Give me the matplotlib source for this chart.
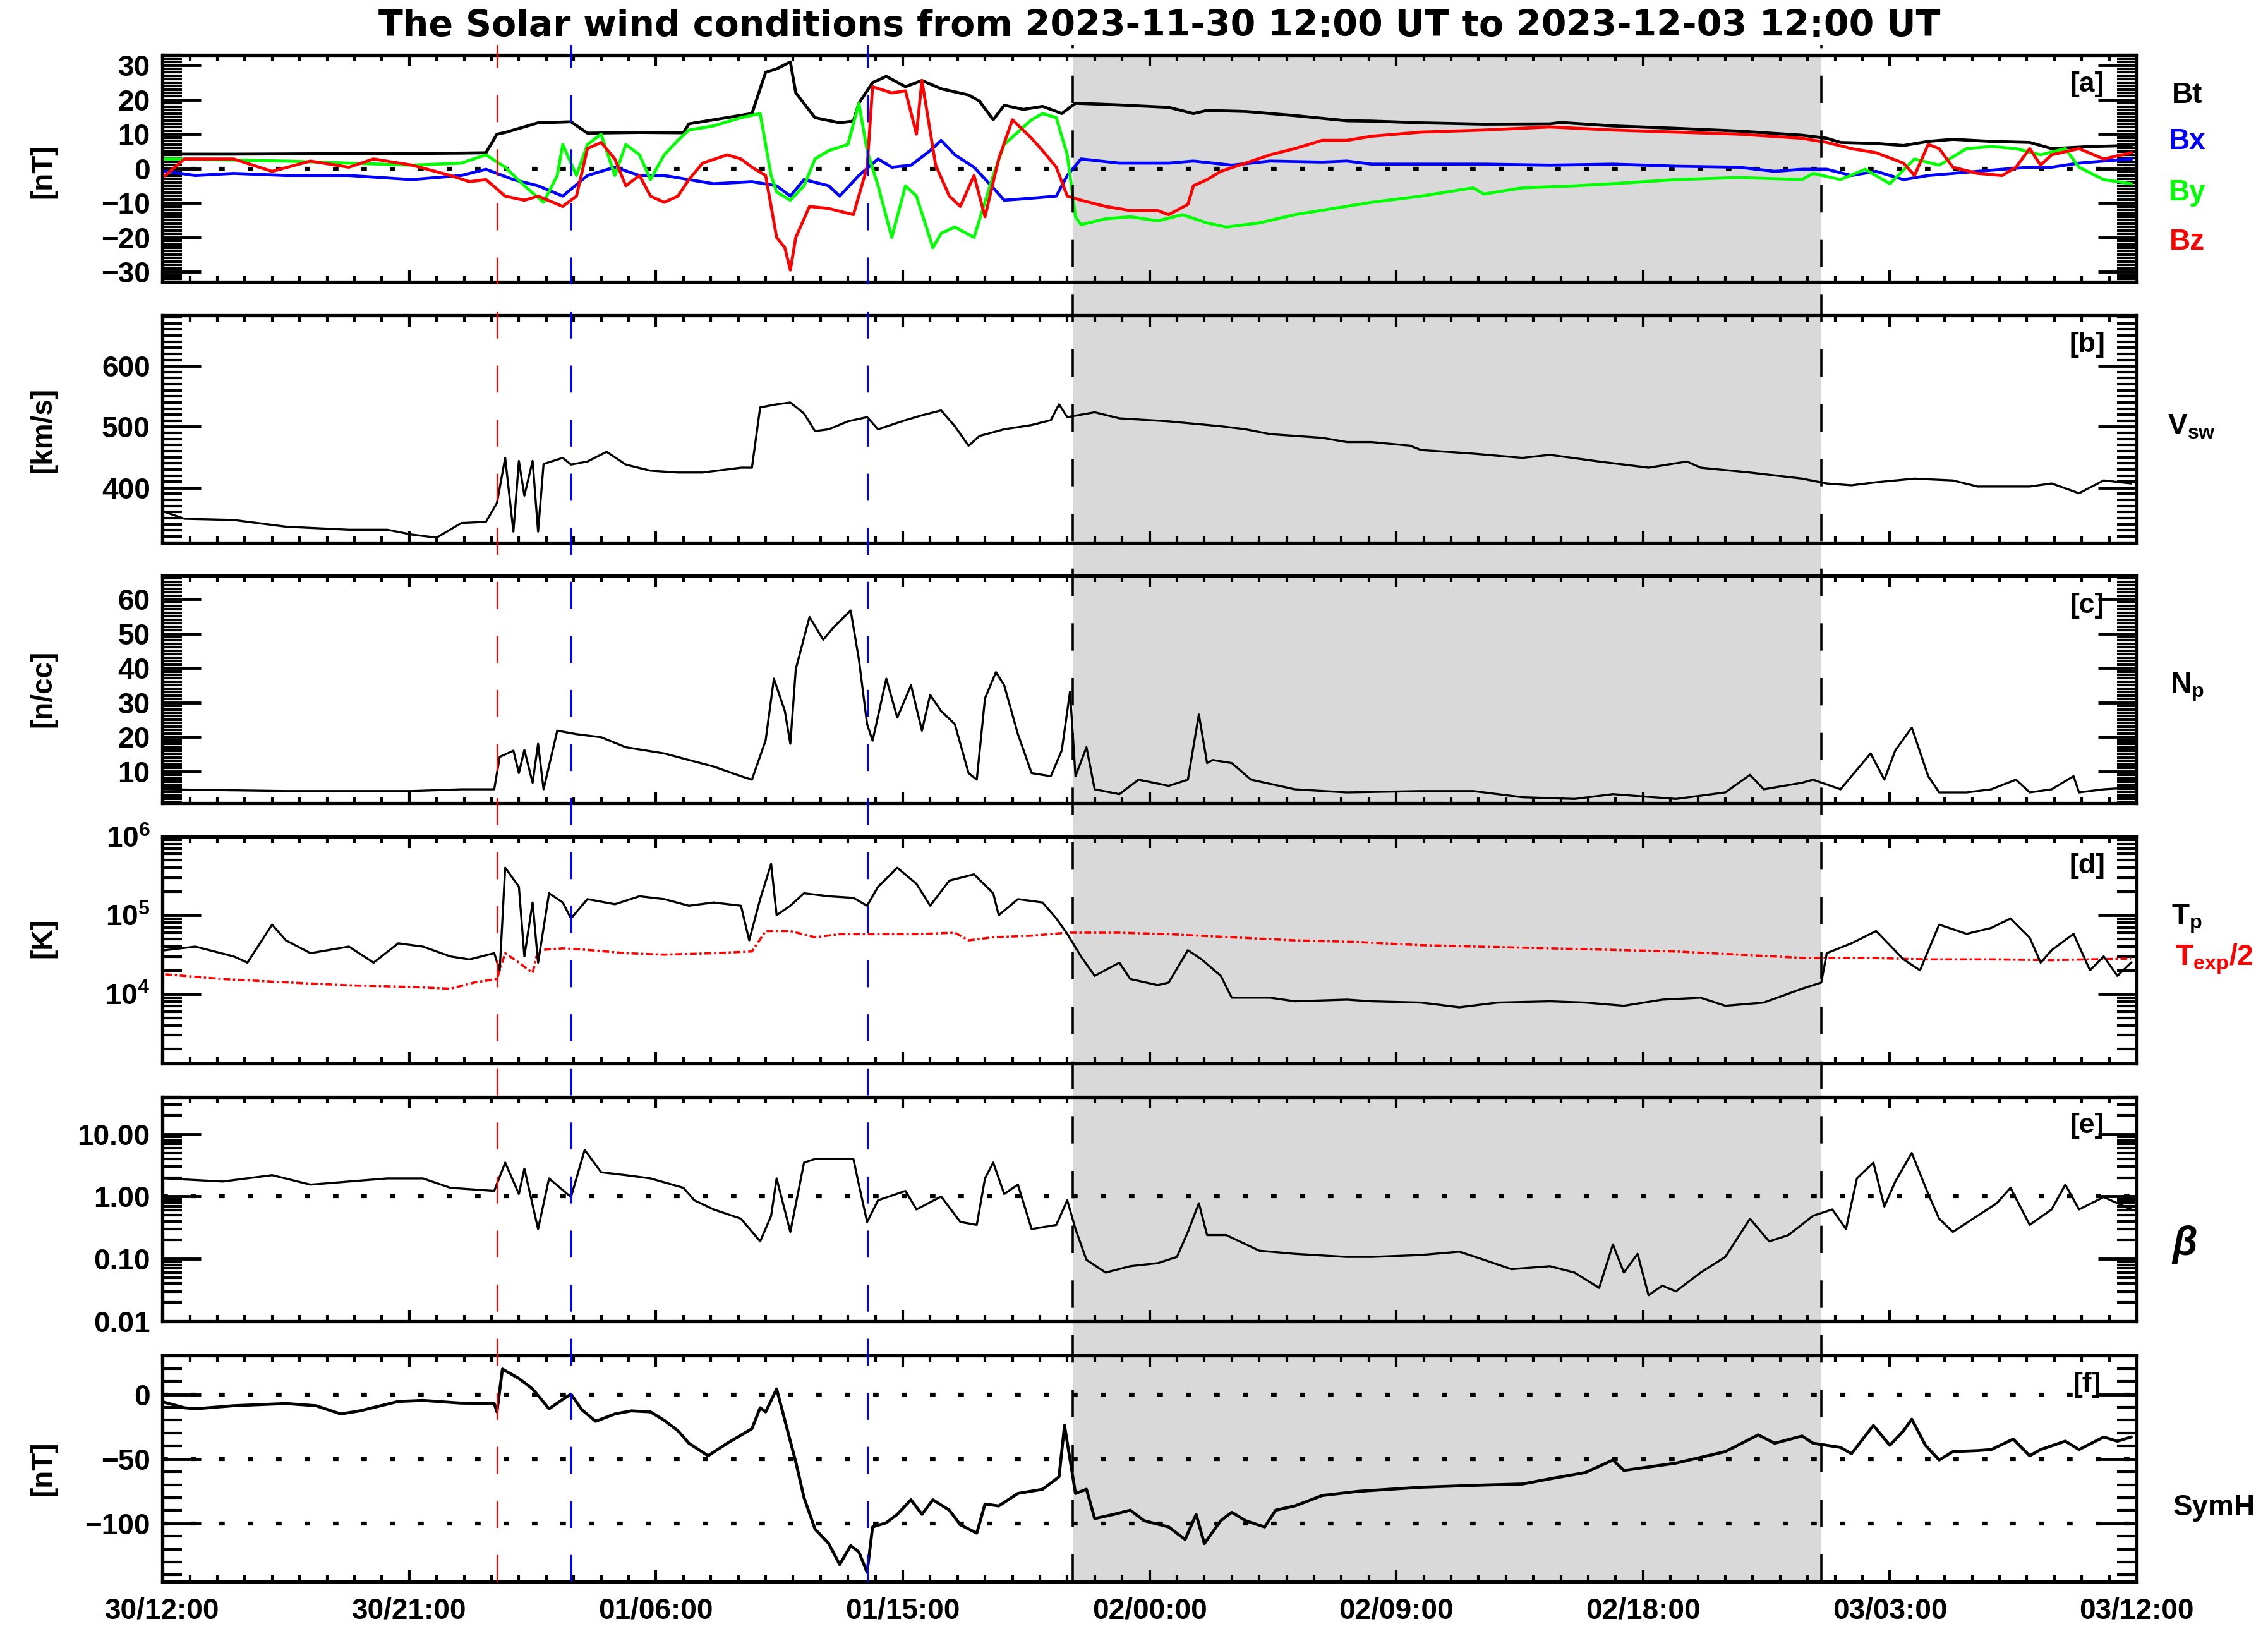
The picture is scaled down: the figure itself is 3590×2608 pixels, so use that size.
import numpy as np
import matplotlib
matplotlib.use('Agg')
import matplotlib.pyplot as plt
from matplotlib.ticker import MultipleLocator, FixedLocator, FixedFormatter, NullFormatter

plt.rcParams['font.family'] = ['Liberation Sans', 'DejaVu Sans']
plt.rcParams['font.weight'] = 'bold'
plt.rcParams['mathtext.fontset'] = 'custom'
plt.rcParams['mathtext.rm'] = 'Liberation Sans:bold'
plt.rcParams['mathtext.it'] = 'Liberation Sans:bold'
plt.rcParams['mathtext.bf'] = 'Liberation Sans:bold'
plt.rcParams['mathtext.default'] = 'rm'

# time in hours since 2023-11-30 12:00 UT
tick_labels = ['30/12:00', '30/21:00', '01/06:00', '01/15:00', '02/00:00',
               '02/09:00', '02/18:00', '03/03:00', '03/12:00']
shock_t = 12.2
blue_t = [14.9, 25.7]
mc_start, mc_end = 33.2, 60.5

# [a] magnetic field (nT)
bt_t = [0.1, 2.6, 5.4, 9.1, 10.9, 11.8, 12.2, 12.5, 13.7, 14.9, 15.5, 17.4, 19.0, 19.2, 21.5,
        22.0, 22.4, 22.9, 23.1, 23.8, 24.7, 25.2, 25.4, 25.9, 26.4, 27.1, 27.7, 28.4, 29.4, 29.8,
        30.3, 30.7, 31.4, 32.1, 32.8, 33.3, 34.9, 36.7, 37.6, 38.1, 39.5, 41.3, 43.2, 44.1, 45.9,
        48.2, 50.6, 51.0, 52.9, 55.2, 57.5, 59.8, 60.7, 61.2, 62.5, 63.5, 64.4, 65.3, 66.7, 68.1,
        68.9, 70.3, 71.8]
bt = [4.2, 4.2, 4.3, 4.4, 4.5, 4.6, 10, 10.5, 13.3, 13.6, 10.3, 10.5, 10.4, 13, 16,
      28, 29, 31, 22, 14.8, 13.3, 13.8, 19, 25, 26.8, 23.8, 25.6, 23.2, 21.4, 19.6,
      14.2, 18.4, 17.2, 18.1, 16, 19, 18.5, 17.8, 16, 16.9, 16.6, 15.4, 13.9, 13.8, 13.3,
      12.9, 13, 13.4, 12.4, 11.7, 10.9, 9.7, 8.8, 7.6, 7.3, 6.7, 7.9, 8.5, 7.9, 7.6,
      5.8, 6.4, 6.7]

bx_t = [0.1, 1.2, 2.6, 4.5, 6.8, 9.1, 10.9, 11.8, 12.8, 13.7, 14.6, 15.5, 16.5, 17.4, 18.3,
        19.2, 20.1, 21.5, 22.4, 22.9, 23.4, 24.3, 24.7, 25.4, 26.1, 26.6, 27.3, 28.0, 28.4, 28.9,
        29.6, 30.3, 30.7, 31.7, 32.6, 33.0, 33.5, 34.9, 36.7, 37.6, 39.0, 40.4, 42.3, 43.2, 44.1,
        45.9, 48.2, 50.6, 52.9, 55.2, 57.5, 58.8, 59.8, 60.7, 61.6, 62.5, 63.5, 64.4, 65.3, 66.2,
        67.1, 68.1, 68.9, 69.9, 70.8, 71.8]
bx = [-0.8, -2, -1.4, -2, -2, -3.2, -2, -0.2, -3.2, -5, -8, -2, 0.4, -2, -2,
      -3.2, -4.4, -3.8, -5, -8, -3.2, -5, -8, -2, 2.8, 0.4, 1, 5.2, 8.2, 4,
      0.4, -5.6, -9.2, -8.6, -8, -2, 2.8, 1.6, 1.6, 2.2, 1, 2.2, 1.9, 2.2, 1.3,
      1.3, 1.3, 1, 1.3, 0.7, 0.4, -0.8, -0.2, -0.2, -2, -0.8, -3.2, -2, -1.4, -0.8,
      -0.2, 0.4, 0.4, 1.6, 2.2, 2.8]

by_t = [0.1, 0.8, 4.5, 6.8, 9.1, 10.9, 11.8, 12.5, 13.2, 13.9, 14.4, 14.6, 15.1, 15.5, 16.0,
        16.5, 16.9, 17.4, 17.8, 18.3, 18.8, 19.2, 20.1, 21.1, 21.8, 22.2, 22.4, 22.9, 23.4, 23.8,
        24.3, 25.0, 25.4, 25.7, 26.1, 26.6, 27.1, 27.5, 28.1, 28.4, 28.9, 29.6, 30.3, 30.7, 31.7,
        32.1, 32.6, 33.0, 33.3, 33.5, 34.4, 35.3, 36.3, 37.2, 38.1, 38.8, 40.0, 41.3, 42.7, 44.1,
        45.9, 47.8, 48.2, 49.6, 51.5, 52.9, 55.2, 57.5, 59.8, 60.2, 61.2, 62.1, 63.0, 63.9, 64.8,
        65.8, 66.7, 67.6, 68.5, 69.4, 69.9, 70.8, 71.8]
by = [2.8, 2.8, 2.2, 1.6, 1.0, 1.6, 4, 0.4, -5, -9.8, -2, 7, -2, 7, 10,
      -2, 7, 4, -3.2, 4, 8.2, 11.2, 12.4, 14.8, 16, -2, -6.8, -9.2, -5, 2.8,
      5.2, 7, 19, 5.2, -5, -20, -5, -8, -23, -18.8, -17, -20, -2, 7, 14.2,
      16, 14.8, 4, -14, -16.3, -14.6, -14, -15.2, -13.4, -15.8, -17, -15.8, -13.4, -11.6, -9.8,
      -8, -5.6, -7.4, -5.6, -5, -4.4, -3.2, -2.6, -3.2, -1.4, -3.2, -0.2, -4.4, 2.8, 1,
      5.8, 6.4, 5.8, 4, 5.8, 0.4, -3.2, -4.4]

bz_t = [0.1, 0.8, 2.6, 4.0, 5.4, 6.8, 7.7, 9.1, 10.5, 11.2, 11.8, 12.5, 13.2, 13.7, 14.6,
        15.1, 15.5, 16.0, 16.5, 16.9, 17.4, 17.8, 18.3, 18.8, 19.2, 19.7, 20.6, 21.1, 21.5, 22.0,
        22.4, 22.7, 22.9, 23.1, 23.6, 24.3, 25.2, 25.7, 25.9, 26.6, 27.1, 27.5, 27.7, 28.2, 28.7,
        29.1, 29.6, 30.0, 30.5, 31.0, 31.7, 32.1, 32.6, 33.0, 33.5, 34.4, 35.3, 36.3, 36.7, 37.4,
        37.6, 38.1, 38.6, 39.5, 40.4, 41.3, 42.3, 43.2, 44.1, 45.9, 48.2, 50.6, 52.9, 55.2, 57.5,
        59.8, 60.7, 61.6, 62.5, 63.5, 63.9, 64.4, 64.8, 65.3, 66.2, 67.1, 67.6, 68.1, 68.5, 68.9,
        69.9, 70.8, 71.8]
bz = [-2, 2.8, 2.8, -0.8, 2.2, 0.4, 2.8, 1, -2, -3.8, -3.2, -8, -9.2, -8, -11,
      -8, 5.8, 7.6, 2.8, -5, -2, -8, -9.8, -8, -3.2, 1.6, 4, 2.8, 0.4, -2,
      -20, -23, -29.5, -20, -11, -11.6, -13.4, 0.4, 23.8, 22, 22.6, 10, 25.6, 1, -8,
      -11, -2, -14, 2.8, 14.2, 8.8, 5.2, 0.4, -8, -9.2, -11, -12.2, -12.2, -13.4, -10.4,
      -5, -3.2, -0.8, 1.6, 4, 5.8, 8.2, 8.2, 9.4, 10.6, 11.2, 12.1, 11.2, 10.6, 10,
      8.8, 7.6, 5.8, 4.6, 1.6, -2, 7, 5.8, 0.4, -1.4, -2, 0.4, 5.8, 1, 4,
      5.8, 2.8, 4.6]

# [b] solar wind speed (km/s)
v_t = [0.1, 0.8, 2.6, 4.5, 6.8, 8.2, 9.1, 10.0, 10.9, 11.8, 12.2, 12.5, 12.8, 13.0, 13.2,
       13.5, 13.7, 13.9, 14.6, 14.9, 15.5, 16.2, 16.9, 17.8, 18.8, 19.7, 21.1, 21.5, 21.8, 22.4,
       22.9, 23.4, 23.8, 24.3, 25.0, 25.7, 26.1, 27.1, 27.7, 28.4, 28.9, 29.4, 29.8, 30.7, 31.7,
       32.4, 32.7, 33.0, 34.0, 34.9, 36.7, 38.6, 39.5, 40.4, 42.3, 43.2, 44.1, 45.5, 45.9, 47.8,
       49.6, 50.6, 52.4, 54.2, 55.6, 56.1, 57.9, 59.8, 60.7, 61.6, 62.5, 63.9, 65.3, 66.2, 67.1,
       68.1, 68.9, 69.9, 70.8, 71.8]
v_sw = [360, 349, 347, 336, 331, 331, 323, 318, 342, 344, 375, 449, 328, 444, 387,
        444, 328, 439, 449, 438, 443, 459, 438, 428, 425, 425, 433, 433, 532, 537,
        540, 522, 493, 496, 509, 516, 496, 511, 519, 527, 501, 469, 485, 496, 503,
        511, 537, 516, 524, 514, 509, 501, 496, 488, 482, 475, 475, 469, 462, 456,
        449, 454, 443, 433, 443, 433, 425, 415, 407, 404, 409, 415, 412, 402, 402,
        402, 407, 391, 412, 407]

# [c] proton density (n/cc)
n_t = [0.1, 4.5, 9.1, 10.9, 12.1, 12.3, 12.8, 13.0, 13.2, 13.5, 13.7, 13.9, 14.4, 15.1, 16.0,
       16.9, 18.3, 19.2, 20.1, 21.1, 21.5, 22.0, 22.3, 22.7, 22.9, 23.1, 23.6, 24.1, 24.5, 25.1,
       25.4, 25.7, 25.9, 26.4, 26.8, 27.3, 27.7, 28.0, 28.4, 28.9, 29.4, 29.7, 30.0, 30.4, 30.7,
       31.2, 31.7, 32.4, 32.8, 33.1, 33.3, 33.7, 34.0, 34.9, 35.6, 36.7, 37.4, 37.8, 38.1, 38.3,
       39.0, 39.7, 41.3, 43.2, 45.9, 47.8, 49.6, 51.5, 52.9, 55.2, 57.0, 57.9, 58.4, 59.8, 60.2,
       61.2, 61.6, 62.3, 62.8, 63.2, 63.8, 64.4, 64.8, 65.8, 66.7, 67.6, 68.1, 68.9, 69.7, 69.9,
       70.8, 71.8]
n_p = [4.8, 4.3, 4.3, 4.8, 4.8, 14.2, 16.0, 9.5, 16.2, 6.7, 18.0, 4.8, 21.8, 20.8, 19.9,
       17.0, 15.2, 13.3, 11.4, 8.6, 7.6, 19.0, 36.9, 27.5, 18.0, 39.7, 54.8, 48.2, 52.0, 56.7,
       42.5, 23.7, 18.9, 36.9, 25.6, 35.0, 21.8, 32.2, 27.5, 23.7, 9.5, 7.6, 31.2, 38.8, 35.0,
       20.8, 9.5, 8.6, 16.1, 33.1, 8.6, 17.0, 4.8, 3.4, 7.6, 5.8, 7.6, 26.5, 12.4, 13.3,
       12.4, 7.6, 4.8, 3.9, 4.3, 4.3, 2.5, 2.0, 3.4, 2.0, 3.9, 9.0, 4.8, 6.7, 7.6,
       4.8, 8.6, 15.2, 7.6, 16.1, 22.7, 8.6, 3.9, 3.9, 4.8, 7.6, 3.9, 4.8, 8.6, 3.9,
       4.8, 5.3]

# [d] proton temperature and expected temperature / 2 (K)
tp_t = [0.1, 1.2, 2.6, 3.1, 4.0, 4.5, 5.4, 6.8, 7.7, 8.6, 9.5, 10.5, 11.2, 12.1, 12.3,
        12.5, 13.0, 13.2, 13.5, 13.7, 14.1, 14.6, 14.9, 15.5, 16.5, 17.4, 18.3, 19.2, 20.1, 21.1,
        21.4, 21.8, 22.2, 22.4, 22.9, 23.4, 24.3, 25.2, 25.7, 26.1, 26.8, 27.5, 28.0, 28.7, 29.6,
        30.3, 30.5, 31.2, 32.1, 32.6, 33.0, 33.5, 34.0, 34.9, 35.3, 36.3, 36.7, 37.4, 37.9, 38.6,
        39.0, 40.4, 41.3, 43.2, 44.1, 45.9, 47.3, 48.7, 50.6, 51.9, 53.3, 54.7, 56.1, 57.0, 58.4,
        59.8, 60.5, 60.7, 61.6, 62.5, 63.5, 64.1, 64.8, 65.8, 66.7, 67.4, 68.1, 68.5, 68.9, 69.7,
        70.3, 70.8, 71.3, 71.8]
t_p = [36000, 40000, 30000, 25000, 76000, 48000, 33000, 40000, 25000, 44000, 40000, 30000, 27500, 33000, 20000,
       400000, 230000, 30000, 145000, 25000, 190000, 145000, 91000, 160000, 138000, 174000, 160000, 132000, 145000, 132000,
       48000, 160000, 447000, 100000, 132000, 190000, 174000, 166000, 132000, 230000, 400000, 250000, 132000, 275000, 330000,
       190000, 100000, 160000, 145000, 91000, 58000, 30000, 17000, 25000, 15500, 13000, 14000, 36000, 27500, 17000,
       9000, 9000, 8100, 8500, 8100, 7800, 6800, 7800, 8100, 7800, 7100, 8500, 9000, 7100, 7800,
       11700, 14000, 33000, 44000, 63000, 27500, 20000, 76000, 58000, 69000, 91000, 52000, 25000, 36000, 58000,
       20000, 30000, 17000, 25000]

texp_t = [0.1, 2.2, 4.5, 6.8, 9.1, 10.5, 11.4, 12.2, 12.5, 13.0, 13.5, 13.7, 14.6, 15.5, 16.9,
          18.3, 20.1, 21.5, 22.0, 22.9, 23.8, 24.7, 26.1, 27.5, 28.9, 29.4, 30.3, 31.7, 33.0, 34.9,
          36.7, 39.0, 41.3, 43.6, 45.9, 48.2, 50.6, 52.9, 55.2, 57.5, 59.8, 62.1, 64.4, 66.7, 68.9,
          71.8]
texp_half = [17800, 15500, 14100, 12900, 12300, 11700, 14100, 15500, 33000, 25000, 18600, 36000, 38000, 36300, 33000,
             31600, 33000, 34700, 63000, 63000, 52500, 57500, 57500, 57500, 60000, 48000, 52500, 55000, 60000, 60000,
             57500, 52500, 48000, 45700, 41700, 39800, 38000, 36300, 34700, 31600, 28800, 28800, 27500, 27500, 26900,
             28200]

# [e] plasma beta
beta_t = [0.1, 2.2, 4.0, 5.4, 6.8, 8.2, 9.5, 10.5, 12.1, 12.5, 13.0, 13.2, 13.7, 14.1, 14.9,
          15.4, 16.0, 16.9, 17.8, 19.0, 19.4, 20.1, 21.1, 21.8, 22.2, 22.4, 22.9, 23.4, 23.8, 24.7,
          25.2, 25.4, 25.7, 26.1, 27.1, 27.5, 28.4, 29.1, 29.7, 30.0, 30.3, 30.7, 31.2, 31.7, 32.6,
          33.0, 33.3, 33.7, 34.4, 35.3, 36.3, 37.0, 37.4, 37.8, 38.1, 38.8, 40.0, 41.3, 43.2, 44.1,
          45.9, 47.3, 48.2, 49.2, 50.6, 51.5, 52.4, 52.9, 53.3, 53.8, 54.2, 54.7, 55.2, 56.1, 57.0,
          57.9, 58.6, 59.3, 60.2, 60.9, 61.4, 61.8, 62.4, 62.8, 63.2, 63.8, 64.4, 64.8, 65.3, 66.2,
          66.9, 67.4, 68.1, 68.9, 69.4, 69.9, 70.8, 71.8]
beta = [1.95, 1.74, 2.2, 1.55, 1.74, 1.95, 1.95, 1.38, 1.23, 3.5, 1.1, 2.8, 0.30, 1.95, 0.98,
        5.6, 2.45, 2.2, 1.95, 1.38, 0.87, 0.62, 0.44, 0.19, 0.49, 1.95, 0.27, 3.5, 4.0, 4.0,
        4.0, 1.55, 0.39, 0.87, 1.23, 0.62, 1.0, 0.39, 0.35, 1.95, 3.5, 1.1, 1.55, 0.30, 0.35,
        0.87, 0.30, 0.096, 0.060, 0.076, 0.085, 0.107, 0.27, 0.78, 0.24, 0.24, 0.135, 0.12, 0.107, 0.107,
        0.115, 0.13, 0.096, 0.068, 0.076, 0.06, 0.034, 0.17, 0.06, 0.12, 0.026, 0.037, 0.03, 0.06, 0.107,
        0.44, 0.19, 0.24, 0.49, 0.62, 0.30, 1.95, 3.5, 0.69, 1.74, 5.0, 1.1, 0.44, 0.27, 0.49,
        0.78, 1.38, 0.35, 0.62, 1.55, 0.62, 0.98, 0.62]

# [f] SymH index (nT)
symh_t = [0.1, 0.8, 1.2, 2.6, 4.5, 5.6, 6.5, 7.2, 8.6, 9.5, 10.9, 12.1, 12.2, 12.4, 13.0,
          13.5, 14.1, 14.6, 14.9, 15.3, 15.8, 16.5, 17.1, 17.8, 18.3, 18.8, 19.2, 19.9, 20.6, 21.5,
          21.8, 22.0, 22.4, 22.7, 23.1, 23.4, 23.8, 24.3, 24.7, 25.1, 25.4, 25.7, 25.9, 26.4, 26.8,
          27.3, 27.7, 28.1, 28.7, 29.1, 29.7, 30.0, 30.5, 31.2, 32.1, 32.7, 32.9, 33.3, 33.7, 34.0,
          34.7, 35.3, 35.8, 36.7, 37.3, 37.7, 38.0, 38.6, 39.0, 39.5, 40.2, 40.6, 41.3, 42.3, 43.6,
          45.9, 48.2, 49.6, 50.6, 51.9, 52.9, 53.3, 55.2, 57.0, 58.2, 58.8, 59.8, 60.2, 61.2, 61.6,
          62.4, 63.0, 63.5, 63.8, 64.3, 64.8, 65.3, 66.2, 66.7, 67.5, 68.1, 68.5, 69.4, 69.9, 70.8,
          71.3, 71.8]
symh = [-6.3, -10.4, -11.2, -8.8, -7.1, -8.8, -15.2, -12.8, -5.5, -4.7, -6.8, -7.1, -13.6, 19.6, 12.3,
        4.2, -11.2, -3.9, 0.2, -12.0, -20.9, -15.2, -12.8, -13.6, -20.1, -28.2, -37.9, -47.6, -37.9, -26.6,
        -10.4, -13.6, 4.2, -20.1, -52.5, -80.1, -104.4, -115.7, -131.9, -117.3, -122.2, -138.0, -102.8, -99.5, -93.0,
        -81.7, -93.0, -81.7, -89.8, -101.1, -107.6, -85.0, -86.5, -76.8, -73.6, -63.9, -24.1, -76.8, -73.6, -96.3,
        -93.0, -89.8, -97.9, -102.8, -112.5, -93.0, -115.7, -97.9, -91.4, -97.9, -102.8, -89.8, -86.5, -78.4, -75.2,
        -72.0, -70.3, -69.5, -65.5, -60.6, -50.9, -59.0, -53.3, -44.4, -31.4, -37.9, -32.3, -37.9, -41.1, -46.0,
        -24.1, -39.5, -28.2, -19.3, -39.5, -50.9, -44.4, -43.6, -42.8, -34.7, -47.6, -42.8, -36.3, -42.8, -33.1,
        -36.3, -33.1]

FS = 33
L, W = 0.0716, 0.8702
# (bottom, height) of each panel in figure fraction
boxes = [(0.8288, 0.1378), (0.6708, 0.1378), (0.5127, 0.1378),
         (0.3547, 0.1378), (0.1984, 0.1361), (0.0404, 0.1370)]

fig = plt.figure(figsize=(35.91, 26.08), dpi=100)
fig.patch.set_facecolor('white')

top_a = boxes[0][0] + boxes[0][1]
bot_f = boxes[5][0]

# shaded magnetic cloud interval, continuous through all panels
bg = fig.add_axes([L, bot_f, W, top_a - bot_f], zorder=0)
bg.set_xlim(0, 72)
bg.set_ylim(0, 1)
bg.axvspan(mc_start, mc_end, color='#d9d9d9', lw=0)
bg.axis('off')

axes = []
for i, (b, h) in enumerate(boxes):
    ax = fig.add_axes([L, b, W, h], zorder=1)
    ax.set_facecolor('none')
    ax.set_xlim(0, 72)
    for s in ax.spines.values():
        s.set_linewidth(3.8)
    ax.xaxis.set_major_locator(MultipleLocator(9))
    ax.xaxis.set_minor_locator(MultipleLocator(1))
    ax.tick_params(axis='x', which='major', direction='in', length=13, width=3,
                   top=True, bottom=True, labelbottom=False, pad=18, labelsize=FS)
    ax.tick_params(axis='x', which='minor', direction='in', length=7, width=3,
                   top=True, bottom=True)
    ax.tick_params(axis='y', which='major', direction='in', length=44, width=3.5,
                   left=True, right=True, labelsize=FS, pad=14)
    ax.tick_params(axis='y', which='minor', direction='in', length=22, width=3,
                   left=True, right=True)
    axes.append(ax)

ax_a, ax_b, ax_c, ax_d, ax_e, ax_f = axes
dot = dict(color='black', lw=4.5, linestyle=(0, (1.4, 5.8)))

# [a]
ax_a.axhline(0, **dot, zorder=1)
ax_a.plot(bt_t, bt, color='black', lw=3.4, zorder=3)
ax_a.plot(bx_t, bx, color='#0000ff', lw=3.4, zorder=3)
ax_a.plot(by_t, by, color='#00ff00', lw=3.4, zorder=3)
ax_a.plot(bz_t, bz, color='#ff0000', lw=3.4, zorder=3)
ax_a.set_ylim(-33, 33)
ax_a.yaxis.set_major_locator(MultipleLocator(10))
ax_a.yaxis.set_minor_locator(MultipleLocator(1))

# [b]
ax_b.plot(v_t, v_sw, color='black', lw=2.4)
ax_b.set_ylim(310, 683)
ax_b.yaxis.set_major_locator(FixedLocator([400, 500, 600]))
ax_b.yaxis.set_minor_locator(MultipleLocator(10))

# [c]
ax_c.plot(n_t, n_p, color='black', lw=2.4)
ax_c.set_ylim(0.8, 66.7)
ax_c.yaxis.set_major_locator(FixedLocator([10, 20, 30, 40, 50, 60]))
ax_c.yaxis.set_minor_locator(MultipleLocator(1))

# [d]
ax_d.set_yscale('log')
ax_d.plot(texp_t, texp_half, color='#ff0000', lw=2.6, linestyle=(0, (3, 1.2, 1, 1.2)))
ax_d.plot(tp_t, t_p, color='black', lw=2.4)
ax_d.set_ylim(10 ** 3.12, 1.0e6)
ax_d.yaxis.set_major_locator(FixedLocator([1e4, 1e5, 1e6]))
ax_d.yaxis.set_major_formatter(FixedFormatter(['10$^{4}$', '10$^{5}$', '10$^{6}$']))
ax_d.yaxis.set_minor_locator(FixedLocator([m * 10.0 ** k for k in (3, 4, 5) for m in range(2, 10)]))
ax_d.yaxis.set_minor_formatter(NullFormatter())

# [e]
ax_e.set_yscale('log')
ax_e.axhline(1, **dot, zorder=1)
ax_e.plot(beta_t, beta, color='black', lw=2.4)
ax_e.set_ylim(0.01, 40)
ax_e.yaxis.set_major_locator(FixedLocator([0.01, 0.1, 1, 10]))
ax_e.yaxis.set_major_formatter(FixedFormatter(['0.01', '0.10', '1.00', '10.00']))
ax_e.yaxis.set_minor_locator(FixedLocator([m * 10.0 ** k for k in (-2, -1, 0, 1) for m in range(2, 10)]))
ax_e.yaxis.set_minor_formatter(NullFormatter())

# [f]
for lev in (0, -50, -100):
    ax_f.axhline(lev, **dot, zorder=1)
ax_f.plot(symh_t, symh, color='black', lw=3.4)
ax_f.set_ylim(-145, 30)
ax_f.yaxis.set_major_locator(FixedLocator([-100, -50, 0]))
ax_f.yaxis.set_minor_locator(MultipleLocator(10))
ax_f.set_xticks(np.arange(0, 73, 9))
ax_f.set_xticklabels(tick_labels)
ax_f.tick_params(axis='x', labelbottom=True)

for ax, lab in zip(axes, 'abcdef'):
    ax.text(0.975, 0.87, '[%s]' % lab, transform=ax.transAxes, ha='center', va='center',
            fontsize=32, fontweight='bold')

# event markers drawn across all panels
ov = fig.add_axes([L, bot_f, W, top_a + 0.006 - bot_f], zorder=3)
ov.set_xlim(0, 72)
ov.set_ylim(0, 1)
ov.axis('off')
ov.axvline(shock_t, color='#ff0000', lw=2.2, linestyle=(0, (14, 14)))
for t in blue_t:
    ov.axvline(t, color='#0000ff', lw=2.2, linestyle=(0, (14, 14)))
for t in (mc_start, mc_end):
    ov.axvline(t, color='black', lw=2.6, linestyle=(0, (12, 12)))

# titles and labels
fig.text(0.511, 0.984, 'The Solar wind conditions from 2023-11-30 12:00 UT to 2023-12-03 12:00 UT',
         ha='center', va='center', fontsize=41, fontweight='bold', family='DejaVu Sans')

ylabs = [('[nT]', 0.896), ('[km/s]', 0.739), ('[n/cc]', 0.582), ('[K]', 0.431), ('[nT]', 0.109)]
for s, y in ylabs:
    fig.text(0.019, y, s, rotation=90, ha='center', va='center', fontsize=FS, fontweight='bold')

right_labels = [('Bt', 0.964, 0.942, 'black'), ('Bx', 0.964, 0.914, '#0000ff'),
                ('By', 0.964, 0.883, '#00ff00'), ('Bz', 0.964, 0.853, '#ff0000'),
                ('V$_{sw}$', 0.966, 0.741, 'black'), ('N$_{p}$', 0.964, 0.583, 'black'),
                ('T$_{p}$', 0.964, 0.4425, 'black'), ('T$_{exp}$/2', 0.976, 0.418, '#ff0000'),
                ('SymH', 0.976, 0.085, 'black')]
for s, x, y, c in right_labels:
    fig.text(x, y, s, ha='center', va='center', fontsize=FS, fontweight='bold', color=c)
fig.text(0.963, 0.245, 'β', ha='center', va='center', fontsize=46, fontweight='bold',
         fontstyle='italic')

fig.savefig('out.png', dpi=100, facecolor='white')
